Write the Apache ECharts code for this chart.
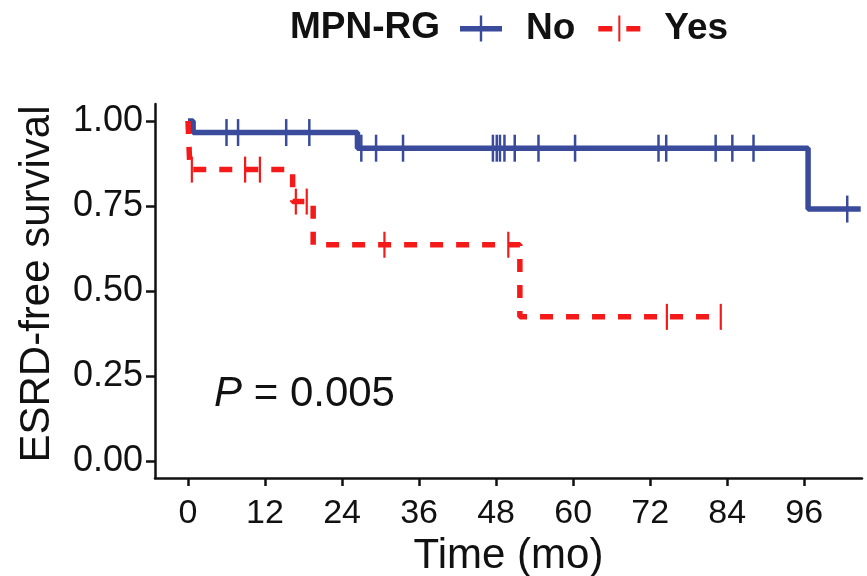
<!DOCTYPE html>
<html>
<head>
<meta charset="utf-8">
<script src="https://cdn.jsdelivr.net/npm/echarts@6/dist/echarts.min.js"></script>
<style>
    html, body { margin: 0; padding: 0; background: #fff; }
    #chart { width: 867px; height: 576px; }
</style>
</head>
<body>
<div id="chart"></div>
<script>
// Kaplan-Meier steps (time in months, survival fraction)
var noTimes = [0, 0.8, 26.4, 96.6, 104.8];
var noSurv = [1, 0.966, 0.92, 0.741, 0.741];
var yesTimes = [0, 0.3, 16.3, 19.5, 51.7, 83.0];
var yesSurv = [1, 0.857, 0.763, 0.636, 0.424, 0.424];

// Censor marks
var noCensorTimes = [6.0, 7.8, 15.3, 18.9, 27.0, 29.3, 33.5, 47.5, 48.1, 48.6, 49.3, 50.9,
    54.6, 60.3, 73.3, 74.5, 82.2, 84.8, 88.1, 102.7];
var noCensorSurv = [0.966, 0.966, 0.966, 0.966, 0.92, 0.92, 0.92, 0.92, 0.92, 0.92, 0.92, 0.92,
    0.92, 0.92, 0.92, 0.92, 0.92, 0.92, 0.92, 0.741];
var yesCensorTimes = [0.6, 8.9, 11.2, 16.8, 18.5, 30.6, 49.9, 74.6, 83.0];
var yesCensorSurv = [0.857, 0.857, 0.857, 0.763, 0.763, 0.636, 0.636, 0.424, 0.424];

var xTicks = [0, 12, 24, 36, 48, 60, 72, 84, 96];
var yTicks = [0, 0.25, 0.5, 0.75, 1];

var groups = ["No", "Yes"];
var blue = "#3a4b9c";
var red = "#f51a1a";
var font = "'Liberation Sans', Arial, sans-serif";

function pairs(xs, ys) {
    return xs.map(function (x, i) { return [x, ys[i]]; });
}

var chart = echarts.init(document.getElementById("chart"));

var options = {
    animation: false,
    textStyle: { fontFamily: font },
    grid: {
        left: 155,
        right: 5,
        top: 104,
        bottom: 98,
        containLabel: false,
        outerBoundsMode: "none",
    },
    legend: {
        left: 460,
        top: 10,
        padding: 0,
        itemWidth: 42,
        itemHeight: 26,
        itemGap: 23,
        selectedMode: false,
        textStyle: {
            fontFamily: font,
            fontSize: 37,
            fontWeight: "bold",
            color: "#111",
            padding: [0, 0, 0, 19],
        },
        data: [
            {
                name: groups[0],
                icon: "path://M0,10.5h42v5.5h-42z M19.8,0h2.4v26h-2.4z",
                itemStyle: { color: blue, borderWidth: 0 },
            },
            {
                name: groups[1],
                icon: "path://M0,10.5h14v5.5h-14z M28,10.5h14v5.5h-14z M20,0h2v26h-2z",
                itemStyle: { color: red, borderWidth: 0 },
            },
        ],
    },
    graphic: [
        {
            type: "text",
            left: 290,
            top: 9,
            style: {
                text: "MPN-RG",
                font: "bold 37px " + font,
                fill: "#111",
            },
        },
        {
            type: "text",
            left: 214,
            top: 373,
            style: {
                text: "{i|P} = 0.005",
                font: "42px " + font,
                fill: "#111",
                rich: {
                    i: { fontStyle: "italic", fontSize: 42, fontFamily: font },
                },
            },
        },
    ],
    xAxis: {
        type: "value",
        min: -5.14,
        max: 105,
        name: "Time (mo)",
        nameLocation: "middle",
        nameGap: 46,
        nameTextStyle: { fontSize: 42, color: "#111", fontFamily: font },
        splitLine: { show: false },
        axisLine: { onZero: false, lineStyle: { color: "#111", width: 2.5 } },
        axisTick: { length: 8, lineStyle: { color: "#111", width: 2.5 }, customValues: xTicks },
        axisLabel: { fontSize: 34, color: "#111", margin: 19, customValues: xTicks },
    },
    yAxis: {
        type: "value",
        min: -0.05,
        max: 1.05,
        name: "ESRD-free survival",
        nameLocation: "middle",
        nameGap: 97,
        nameTextStyle: { fontSize: 42, color: "#111", fontFamily: font, padding: [0, 0, 0, 14] },
        splitLine: { show: false },
        axisLine: { show: true, onZero: false, lineStyle: { color: "#111", width: 2.5 } },
        axisTick: { show: true, length: 9, lineStyle: { color: "#111", width: 2.5 }, customValues: yTicks },
        axisLabel: {
            fontSize: 36,
            color: "#111",
            margin: 12,
            customValues: yTicks,
            formatter: function (v) { return v.toFixed(2); },
        },
    },
    series: [
        {
            name: groups[0],
            type: "line",
            step: "end",
            symbol: "none",
            data: pairs(noTimes, noSurv),
            lineStyle: { color: blue, width: 5.5 },
            itemStyle: { color: blue },
            z: 2,
        },
        {
            name: groups[1],
            type: "line",
            step: "end",
            symbol: "none",
            data: pairs(yesTimes, yesSurv),
            lineStyle: { color: red, width: 5.5, type: [13, 13], cap: "butt" },
            itemStyle: { color: red },
            z: 3,
        },
        {
            name: "noCensor",
            type: "scatter",
            symbol: "rect",
            symbolSize: [2.5, 27],
            data: pairs(noCensorTimes, noCensorSurv),
            itemStyle: { color: blue, opacity: 1 },
            silent: true,
            z: 4,
        },
        {
            name: "yesCensor",
            type: "scatter",
            symbol: "rect",
            symbolSize: [2.2, 26],
            data: pairs(yesCensorTimes, yesCensorSurv),
            itemStyle: { color: red, opacity: 1 },
            silent: true,
            z: 5,
        },
    ],
};

chart.setOption(options);
</script>
</body>
</html>
